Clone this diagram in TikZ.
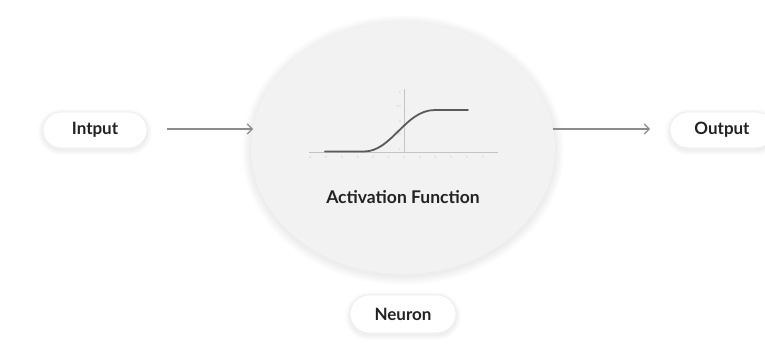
\documentclass[tikz,border=0pt]{standalone}
\usepackage{fontspec}
\setmainfont{Lato}
\usetikzlibrary{arrows.meta,shapes.geometric}
\definecolor{bodyfill}{HTML}{F2F2F2}
\definecolor{pillline}{HTML}{ECECEC}
\definecolor{flowgray}{HTML}{8C8C8C}
\definecolor{curvegray}{HTML}{5A5A5A}
\definecolor{axisgray}{HTML}{C4C4C4}
\definecolor{labelgray}{HTML}{222222}
% soft halo under a pill: centre x, centre y, half width, half height
\newcommand\pillhalo[4]{%
  \foreach \r in {1,...,5}
    \fill[black, opacity=0.012, rounded corners={#4pt+\r pt}]
      ({#1-#3-\r},{#2-#4-\r+2}) rectangle ({#1+#3+\r},{#2+#4+\r+2});}
\begin{document}
\begin{tikzpicture}[x=1pt,y=-1pt,
  pill/.style={draw=pillline, line width=0.7pt, fill=white, rounded corners=18pt,
    minimum width=104pt, minimum height=36pt, inner sep=0pt,
    font=\fontsize{17}{20}\selectfont\bfseries, text=labelgray},
  body/.style={ellipse, fill=bodyfill, minimum width=304pt, minimum height=252pt, inner sep=0pt},
  flow/.style={draw=flowgray, line width=1.1pt, -{Straight Barb[length=5pt,width=10pt]}},
  axis/.style={draw=axisgray, line width=0.6pt},
  tick/.style={font=\fontsize{3}{3}\selectfont, text=axisgray, inner sep=0pt},
  curve/.style={draw=curvegray, line width=1.8pt, line cap=round}
]
\useasboundingbox (0,0) rectangle (765,351);
\fill[white] (0,0) rectangle (765,351);

% soft shadow round the neuron body
\foreach \r in {1,...,9}
  \fill[black, opacity=0.009] (403,150) ellipse [x radius=152+\r, y radius=126+\r];

% neuron body
\node[body] (neuron) at (403,148) {};

% activation plot
\coordinate (xl) at (309,152);
\coordinate (xr) at (498,152);
\coordinate (yb) at (404,152);
\coordinate (yt) at (404,89);
\draw[axis] (xl) -- (xr);
\draw[axis] (yb) -- (yt);
\foreach \v [count=\i from 0] in {-6,-5,-4,-3,-2,-1,0,1,2,3,4,5}
  \node[tick] (xt\i) at (310+\i*15.7,157.5) {\v};
\foreach \v/\yy [count=\i] in {1/92,0.5/106,0/121,-0.5/134,-1/149}
  \node[tick, anchor=east] (ytick\i) at (401,\yy) {\v};
\coordinate (c0) at (325,151.5);
\coordinate (c1) at (364,151.5);
\coordinate (c2) at (435,110);
\coordinate (c3) at (468,110);
\draw[curve] (c0) -- (c1) .. controls (392,151.5) and (405,110) .. (c2) -- (c3);

\node[font=\fontsize{17.5}{21}\selectfont\bfseries, text=labelgray] (actlabel) at (403,197) {Activation Function};

% inputs and outputs
\pillhalo{95}{130}{52}{18}
\pillhalo{722}{130}{52}{18}
\pillhalo{403}{314}{53}{19}
\node[pill] (input) at (95,130) {Intput};
\node[pill] (output) at (722,130) {Output};
\node[pill, minimum width=106pt, minimum height=38pt, rounded corners=19pt] (neuronlabel) at (403,314) {Neuron};

\coordinate (ainstart) at (167,129);
\coordinate (ain) at (253,129);
\coordinate (aout) at (553,129);
\coordinate (aoutend) at (650,129);
\draw[flow] (ainstart) -- (ain);
\draw[flow] (aout) -- (aoutend);
\end{tikzpicture}
\end{document}
